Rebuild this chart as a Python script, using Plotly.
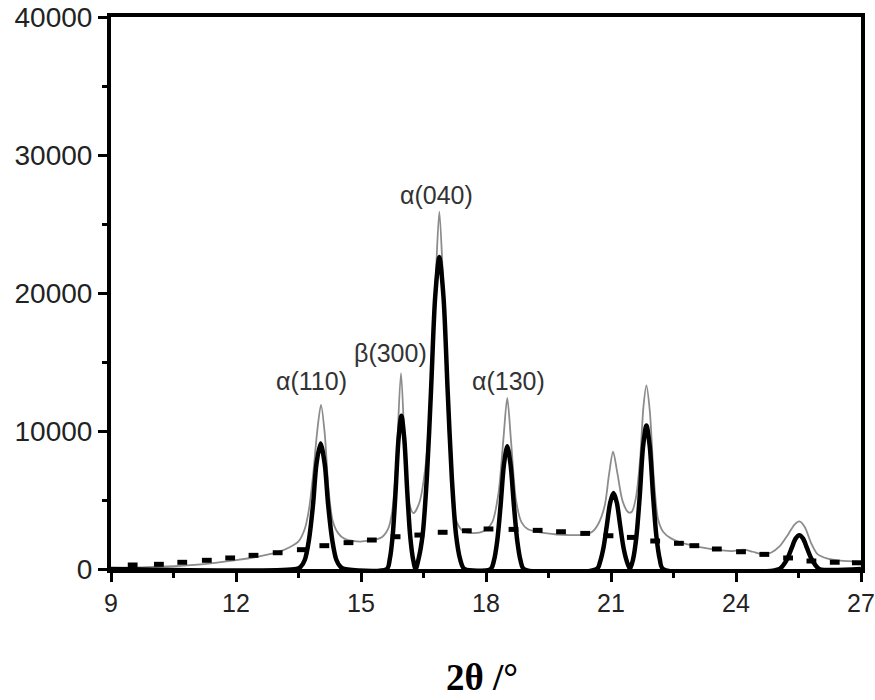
import plotly.graph_objects as go

# Measured pattern (thin grey line)
meas_x = [9.0, 9.5, 10.0, 10.5, 11.0, 11.5, 12.0, 12.5, 13.0, 13.3, 13.5, 13.65, 13.75, 13.85, 13.95,
          14.04, 14.13, 14.22, 14.32, 14.45, 14.6, 14.9, 15.2, 15.5, 15.65, 15.75, 15.85, 15.96,
          16.07, 16.17, 16.26, 16.4, 16.55, 16.68, 16.8, 16.88, 16.96, 17.08, 17.2, 17.3, 17.45,
          17.7, 17.95, 18.15, 18.3, 18.42, 18.51, 18.6, 18.72, 18.85, 19.0, 19.3, 19.7, 20.0, 20.3,
          20.55, 20.7, 20.85, 20.95, 21.05, 21.15, 21.28, 21.42, 21.5, 21.6, 21.7, 21.78, 21.85,
          21.93, 22.03, 22.13, 22.25, 22.45, 22.75, 23.1, 23.5, 23.9, 24.2, 24.4, 24.65, 24.85,
          25.05, 25.25, 25.4, 25.52, 25.65, 25.8, 25.95, 26.2, 26.5, 27.0]
meas_y = [60, 100, 150, 200, 300, 450, 640, 880, 1220, 1600, 2000, 2900, 4300, 6800, 10000,
          11900, 9800, 5800, 3500, 2600, 2200, 2000, 2050, 2300, 2900, 4200, 7800, 14200,
          7500, 4600, 4050, 4800, 7500, 13000, 21500, 25900, 21500, 11500, 5500, 3400, 2750,
          2600, 2750, 3400, 5500, 9500, 12400, 9300, 5000, 3400, 2900, 2650, 2500, 2460, 2480,
          2700, 3300, 4600, 6800, 8500, 7000, 4900, 4100, 4150, 5200, 8000, 11800, 13300,
          11500, 6500, 3600, 2700, 2200, 1850, 1600, 1400, 1300, 1400, 1250, 1050, 1200,
          1650, 2500, 3200, 3450, 3050, 1900, 1100, 750, 600, 520]

# Fitted crystalline peaks (thick black line)
fit_x = [9.0,
         13.45, 13.55, 13.65, 13.75, 13.85, 13.93, 14.03, 14.13, 14.21, 14.31, 14.41, 14.51, 14.6,
         15.62, 15.69, 15.76, 15.83, 15.90, 15.97, 16.04, 16.11, 16.18, 16.25, 16.31,
         16.38, 16.48, 16.58, 16.68, 16.78, 16.88, 16.98, 17.08, 17.18, 17.28, 17.38, 17.48,
         18.11, 18.19, 18.27, 18.35, 18.43, 18.51, 18.59, 18.67, 18.75, 18.83, 18.91,
         20.66, 20.74, 20.82, 20.90, 20.98, 21.06, 21.14, 21.22, 21.30, 21.38, 21.455,
         21.53, 21.61, 21.69, 21.77, 21.85, 21.93, 22.01, 22.09, 22.17, 22.25,
         25.04, 25.14, 25.24, 25.34, 25.43, 25.52, 25.61, 25.70, 25.80, 25.90, 26.0,
         27.0]
fit_y = [0,
         0, 150, 650, 2100, 4700, 7600, 9100, 7600, 4700, 2100, 650, 150, 0,
         0, 700, 2400, 5600, 9400, 11100, 9400, 5600, 2400, 700, 0,
         700, 2500, 6600, 12900, 19700, 22600, 19700, 12900, 6600, 2500, 700, 0,
         0, 600, 2050, 4600, 7550, 8900, 7550, 4600, 2050, 600, 0,
         0, 550, 1550, 3150, 4800, 5500, 4800, 3150, 1550, 550, 0,
         700, 2350, 5300, 8900, 10400, 8900, 5300, 2350, 700, 0,
         0, 300, 800, 1550, 2200, 2450, 2200, 1550, 800, 300, 0,
         0]

# Amorphous background (dotted)
bg_x = [9.52, 10.15, 10.71, 11.3, 11.86, 12.42, 13.0, 13.58, 14.12, 14.7, 15.26, 15.83, 16.4,
        16.96, 17.54, 18.06, 18.66, 19.24, 19.8, 20.38, 20.94, 21.5, 22.06, 22.63, 23.0, 23.54,
        24.12, 24.68, 25.25, 25.81, 26.37, 26.9]
bg_y = [290, 340, 485, 630, 800, 990, 1180, 1400, 1690, 1910, 2100, 2340, 2460,
        2660, 2770, 2900, 2870, 2800, 2700, 2580, 2410, 2290, 2030, 1860, 1690, 1450,
        1250, 1060, 800, 580, 490, 450]

peak_labels = ["α(110)", "β(300)", "α(040)", "α(130)"]
label_x = [13.82, 15.70, 16.82, 18.55]
label_y = [13620, 15650, 27100, 13620]

x_ticks = [9, 12, 15, 18, 21, 24, 27]
y_ticks = [0, 10000, 20000, 30000, 40000]

fig = go.Figure()
fig.add_trace(go.Scatter(x=meas_x, y=meas_y, mode="lines",
                         line=dict(color="#8c8c8c", width=1.8, shape="spline", smoothing=0.8),
                         showlegend=False, hoverinfo="skip"))
fig.add_trace(go.Scatter(x=bg_x, y=bg_y, mode="markers",
                         marker=dict(symbol="line-ew", size=7, color="black",
                                     line=dict(color="black", width=5)),
                         showlegend=False, hoverinfo="skip"))
fig.add_trace(go.Scatter(x=fit_x, y=fit_y, mode="lines",
                         line=dict(color="black", width=4.5, shape="spline", smoothing=0.8),
                         showlegend=False, hoverinfo="skip"))

for t, xx, yy in zip(peak_labels, label_x, label_y):
    fig.add_annotation(x=xx, y=yy, xref="x", yref="y", text=t, showarrow=False,
                       font=dict(family="Liberation Sans, Arial", size=25, color="#333333"),
                       xanchor="center", yanchor="middle")

fig.add_annotation(x=0.495, y=-0.197, xref="paper", yref="paper", text="<b>2θ /°</b>",
                   showarrow=False, xanchor="center", yanchor="middle",
                   font=dict(family="Liberation Serif, Times New Roman", size=37, color="black"))

axis_common = dict(showline=True, linewidth=4, linecolor="black", mirror=True,
                   showgrid=False, zeroline=False, ticks="outside", ticklen=9,
                   tickwidth=3, tickcolor="black", automargin=False,
                   ticklabeloverflow="allow")

fig.update_xaxes(range=[9, 27], tickvals=x_ticks, ticktext=[str(v) for v in x_ticks],
                 tickfont=dict(family="Liberation Sans, Arial", size=25, color="#222222"),
                 minor=dict(dtick=1.5, tick0=9, ticks="outside", ticklen=5, tickwidth=3,
                            tickcolor="black"),
                 **axis_common)
fig.update_yaxes(range=[0, 40000], tickvals=y_ticks, ticktext=[str(v) for v in y_ticks],
                 tickfont=dict(family="Liberation Sans, Arial", size=28, color="#222222"),
                 minor=dict(dtick=5000, tick0=0, ticks="outside", ticklen=5, tickwidth=3,
                            tickcolor="black"),
                 **axis_common)

fig.update_layout(width=875, height=700,
                  margin=dict(l=111, r=14, t=17, b=131, autoexpand=False),
                  paper_bgcolor="white", plot_bgcolor="white")

fig.write_html("out.html")
